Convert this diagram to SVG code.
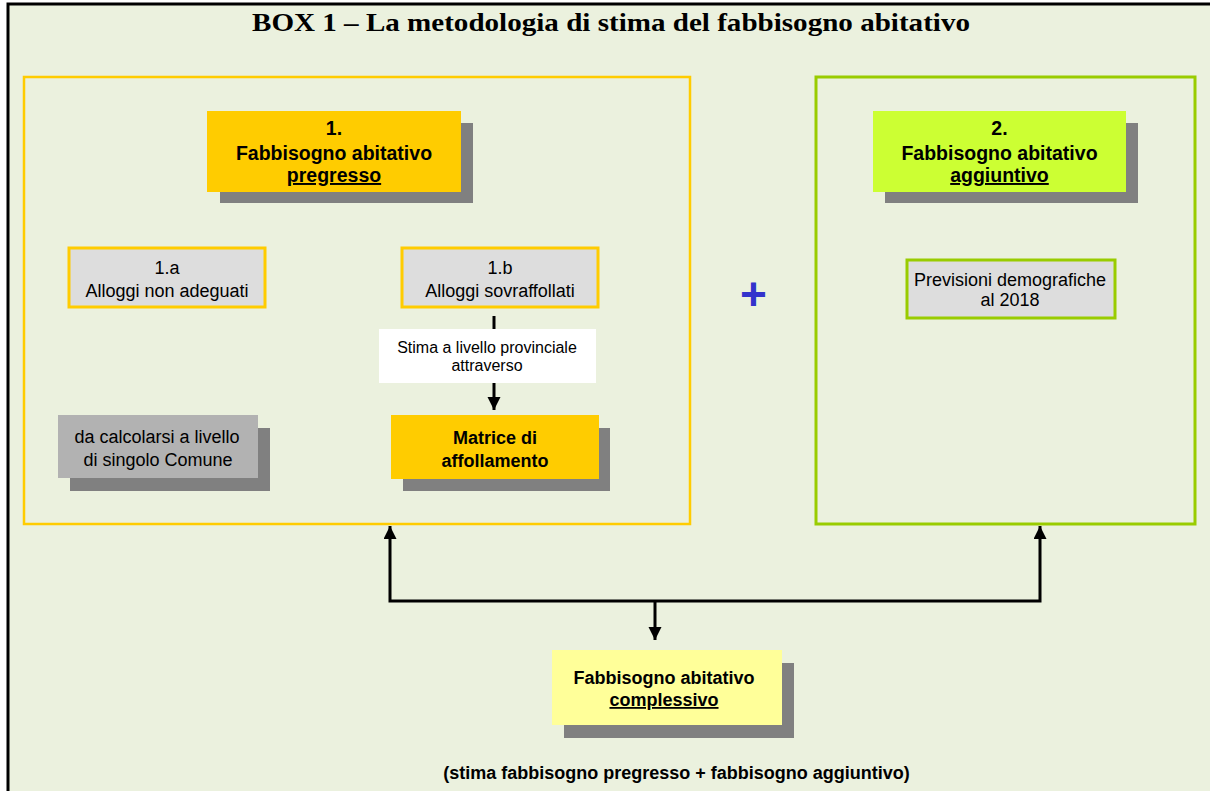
<svg xmlns="http://www.w3.org/2000/svg" width="1210" height="791" viewBox="0 0 1210 791">
  <defs>
    <style>
      .t { font-family: "Liberation Sans", Arial, sans-serif; fill: #000; text-anchor: middle; }
      .r { font-size: 18px; }
      .b { font-size: 18px; font-weight: bold; }
      .hb { font-size: 19.5px; font-weight: bold; }
      .u { text-decoration: underline; }
      .shadow { fill: #808080; }
      .conn { stroke: #000; stroke-width: 3; fill: none; }
    </style>
    <marker id="ah" markerUnits="userSpaceOnUse" markerWidth="14" markerHeight="14" refX="13" refY="6.5" orient="auto">
      <path d="M0,0 L13,6.5 L0,13 Z" fill="#000"/>
    </marker>
  </defs>

  <rect x="0" y="0" width="1210" height="791" fill="#FFFFFF"/>
  <rect id="frame" x="8" y="4" width="1220" height="800" fill="#EBF1DE" stroke="#000" stroke-width="3"/>

  <text id="title" x="611" y="31" font-family="'Liberation Serif', 'Times New Roman', serif" font-size="26" font-weight="bold" text-anchor="middle" textLength="718" lengthAdjust="spacingAndGlyphs">BOX 1 – La metodologia di stima del fabbisogno abitativo</text>

  <g id="box-pregresso-frame">
    <rect x="24" y="77" width="666" height="447" fill="none" stroke="#FFCC00" stroke-width="2.5"/>
  </g>
  <g id="box-aggiuntivo-frame">
    <rect x="816" y="77" width="379" height="447" fill="none" stroke="#99CC00" stroke-width="3"/>
  </g>

  <g id="node-1">
    <rect class="shadow" x="220" y="123" width="253" height="80"/>
    <rect x="207" y="111" width="254" height="81" fill="#FFCC00"/>
    <text class="t hb" x="334" y="135">1.</text>
    <text class="t hb" x="334" y="160">Fabbisogno abitativo</text>
    <text class="t hb u" x="334" y="182">pregresso</text>
  </g>

  <g id="node-1a">
    <rect x="69" y="248" width="196" height="59" fill="#DDDDDD" stroke="#FFCC00" stroke-width="3"/>
    <text class="t r" x="167" y="274">1.a</text>
    <text class="t r" x="167" y="297">Alloggi non adeguati</text>
  </g>

  <g id="node-1b">
    <rect x="402" y="248" width="196" height="59" fill="#DDDDDD" stroke="#FFCC00" stroke-width="3"/>
    <text class="t r" x="500" y="274">1.b</text>
    <text class="t r" x="500" y="297">Alloggi sovraffollati</text>
  </g>

  <g id="node-comune">
    <rect class="shadow" x="70" y="428" width="200" height="63"/>
    <rect x="58" y="415" width="200" height="63" fill="#B2B2B2"/>
    <text class="t r" x="157" y="443">da calcolarsi a livello</text>
    <text class="t r" x="158" y="466">di singolo Comune</text>
  </g>

  <g id="node-matrice">
    <rect class="shadow" x="403" y="428" width="207" height="63"/>
    <rect x="391" y="415" width="208" height="64" fill="#FFCC00"/>
    <text class="t b" x="495" y="444">Matrice di</text>
    <text class="t b" x="495" y="467">affollamento</text>
  </g>

  <g id="node-2">
    <rect class="shadow" x="885" y="123" width="253" height="80"/>
    <rect x="873" y="111" width="253" height="81" fill="#CCFF33"/>
    <text class="t hb" x="999.5" y="135">2.</text>
    <text class="t hb" x="999.5" y="160">Fabbisogno abitativo</text>
    <text class="t hb u" x="999.5" y="182">aggiuntivo</text>
  </g>

  <g id="node-previsioni">
    <rect x="907" y="260" width="208" height="58" fill="#DDDDDD" stroke="#99CC00" stroke-width="3"/>
    <text class="t r" x="1010" y="286">Previsioni demografiche</text>
    <text class="t r" x="1010" y="306">al 2018</text>
  </g>

  <g id="plus">
    <text x="753.5" y="310" font-family="'Liberation Sans', Arial, sans-serif" font-size="46" font-weight="bold" fill="#3333CC" text-anchor="middle">+</text>
  </g>

  <g id="connectors">
    <line class="conn" x1="494" y1="316" x2="494" y2="410" marker-end="url(#ah)"/>
    <polyline class="conn" points="655,601 390,601 390,526" marker-end="url(#ah)"/>
    <polyline class="conn" points="655,601 1040,601 1040,526" marker-end="url(#ah)"/>
    <line class="conn" x1="655" y1="601" x2="655" y2="640" marker-end="url(#ah)"/>
  </g>

  <g id="label-stima">
    <rect x="379" y="329" width="217" height="54" fill="#FFFFFF"/>
    <text class="t" x="487" y="353" font-size="16">Stima a livello provinciale</text>
    <text class="t" x="487" y="371" font-size="16">attraverso</text>
  </g>

  <g id="node-complessivo">
    <rect class="shadow" x="564" y="663" width="230" height="75"/>
    <rect x="552" y="650" width="230" height="75" fill="#FFFF99"/>
    <text class="t b" x="664" y="684">Fabbisogno abitativo</text>
    <text class="t b u" x="664" y="706">complessivo</text>
  </g>

  <text id="footer" class="t b" x="676.5" y="779">(stima fabbisogno pregresso + fabbisogno aggiuntivo)</text>
</svg>
